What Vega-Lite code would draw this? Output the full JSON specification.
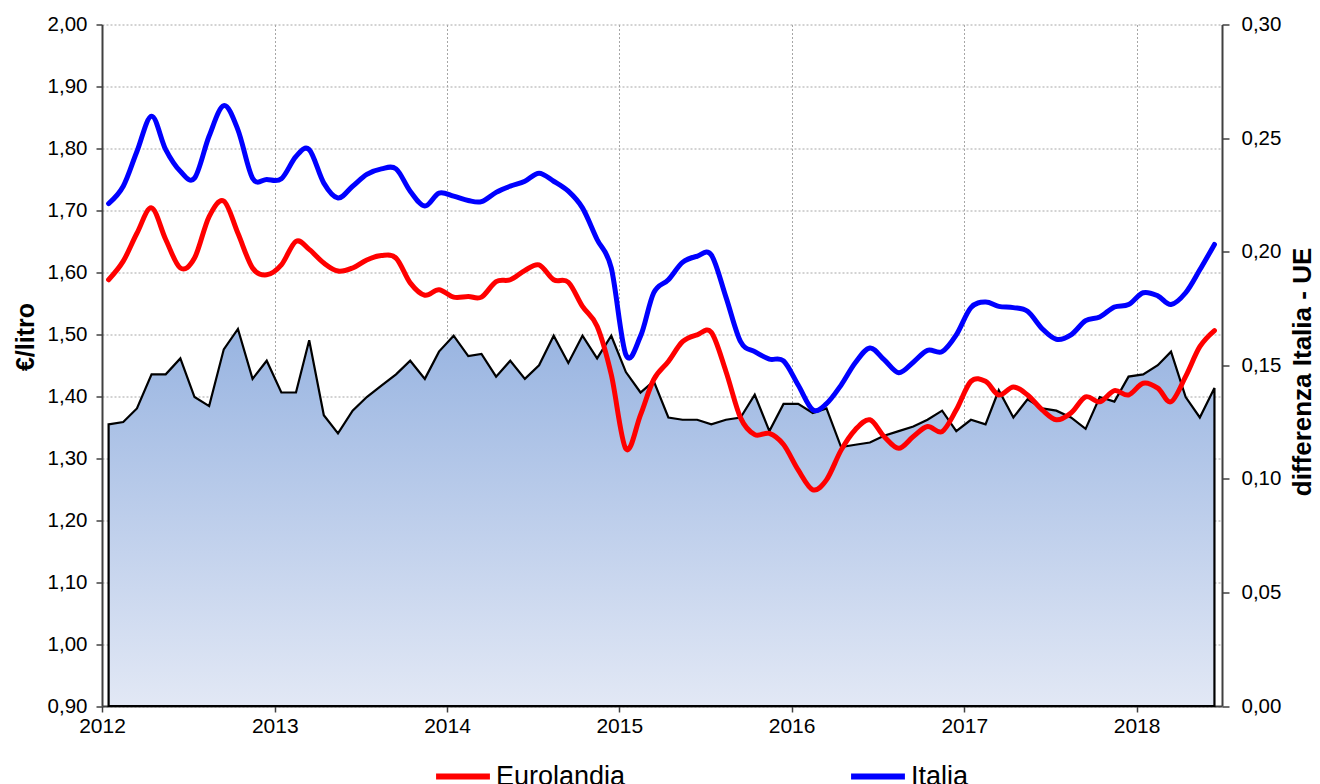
{
  "$schema": "https://vega.github.io/schema/vega-lite/v6.json",
  "width": 1120,
  "height": 681.5,
  "autosize": {"type": "none"},
  "padding": {"left": 102, "top": 24.5, "right": 98, "bottom": 78},
  "background": "white",
  "config": {
    "font": "Liberation Sans",
    "view": {"stroke": null},
    "axis": {"labelFont": "Liberation Sans", "titleFont": "Liberation Sans", "labelColor": "black", "titleColor": "black"}
  },
  "data": {
    "values": [
      {"d": "2012-01-15", "Eurolandia": 1.588, "Italia": 1.711, "diff": 0.124},
      {"d": "2012-02-15", "Eurolandia": 1.618, "Italia": 1.739, "diff": 0.125},
      {"d": "2012-03-15", "Eurolandia": 1.663, "Italia": 1.795, "diff": 0.131},
      {"d": "2012-04-15", "Eurolandia": 1.704, "Italia": 1.852, "diff": 0.146},
      {"d": "2012-05-15", "Eurolandia": 1.653, "Italia": 1.798, "diff": 0.146},
      {"d": "2012-06-15", "Eurolandia": 1.607, "Italia": 1.763, "diff": 0.153},
      {"d": "2012-07-15", "Eurolandia": 1.623, "Italia": 1.752, "diff": 0.136},
      {"d": "2012-08-15", "Eurolandia": 1.690, "Italia": 1.820, "diff": 0.132},
      {"d": "2012-09-15", "Eurolandia": 1.715, "Italia": 1.869, "diff": 0.157},
      {"d": "2012-10-15", "Eurolandia": 1.663, "Italia": 1.830, "diff": 0.166},
      {"d": "2012-11-15", "Eurolandia": 1.607, "Italia": 1.752, "diff": 0.144},
      {"d": "2012-12-15", "Eurolandia": 1.596, "Italia": 1.750, "diff": 0.152},
      {"d": "2013-01-15", "Eurolandia": 1.612, "Italia": 1.751, "diff": 0.138},
      {"d": "2013-02-15", "Eurolandia": 1.650, "Italia": 1.787, "diff": 0.138},
      {"d": "2013-03-15", "Eurolandia": 1.637, "Italia": 1.798, "diff": 0.161},
      {"d": "2013-04-15", "Eurolandia": 1.615, "Italia": 1.744, "diff": 0.128},
      {"d": "2013-05-15", "Eurolandia": 1.602, "Italia": 1.720, "diff": 0.120},
      {"d": "2013-06-15", "Eurolandia": 1.607, "Italia": 1.739, "diff": 0.130},
      {"d": "2013-07-15", "Eurolandia": 1.620, "Italia": 1.758, "diff": 0.136},
      {"d": "2013-08-15", "Eurolandia": 1.627, "Italia": 1.767, "diff": 0.141},
      {"d": "2013-09-15", "Eurolandia": 1.623, "Italia": 1.767, "diff": 0.146},
      {"d": "2013-10-15", "Eurolandia": 1.583, "Italia": 1.731, "diff": 0.152},
      {"d": "2013-11-15", "Eurolandia": 1.563, "Italia": 1.707, "diff": 0.144},
      {"d": "2013-12-15", "Eurolandia": 1.572, "Italia": 1.728, "diff": 0.156},
      {"d": "2014-01-15", "Eurolandia": 1.560, "Italia": 1.723, "diff": 0.163},
      {"d": "2014-02-15", "Eurolandia": 1.561, "Italia": 1.716, "diff": 0.154},
      {"d": "2014-03-15", "Eurolandia": 1.560, "Italia": 1.714, "diff": 0.155},
      {"d": "2014-04-15", "Eurolandia": 1.585, "Italia": 1.729, "diff": 0.145},
      {"d": "2014-05-15", "Eurolandia": 1.588, "Italia": 1.739, "diff": 0.152},
      {"d": "2014-06-15", "Eurolandia": 1.603, "Italia": 1.747, "diff": 0.144},
      {"d": "2014-07-15", "Eurolandia": 1.612, "Italia": 1.760, "diff": 0.150},
      {"d": "2014-08-15", "Eurolandia": 1.588, "Italia": 1.747, "diff": 0.163},
      {"d": "2014-09-15", "Eurolandia": 1.584, "Italia": 1.731, "diff": 0.151},
      {"d": "2014-10-15", "Eurolandia": 1.545, "Italia": 1.704, "diff": 0.163},
      {"d": "2014-11-15", "Eurolandia": 1.513, "Italia": 1.653, "diff": 0.153},
      {"d": "2014-12-15", "Eurolandia": 1.435, "Italia": 1.607, "diff": 0.163},
      {"d": "2015-01-15", "Eurolandia": 1.315, "Italia": 1.467, "diff": 0.147},
      {"d": "2015-02-15", "Eurolandia": 1.370, "Italia": 1.497, "diff": 0.138},
      {"d": "2015-03-15", "Eurolandia": 1.427, "Italia": 1.567, "diff": 0.143},
      {"d": "2015-04-15", "Eurolandia": 1.456, "Italia": 1.588, "diff": 0.127},
      {"d": "2015-05-15", "Eurolandia": 1.488, "Italia": 1.616, "diff": 0.126},
      {"d": "2015-06-15", "Eurolandia": 1.499, "Italia": 1.626, "diff": 0.126},
      {"d": "2015-07-15", "Eurolandia": 1.503, "Italia": 1.628, "diff": 0.124},
      {"d": "2015-08-15", "Eurolandia": 1.440, "Italia": 1.560, "diff": 0.126},
      {"d": "2015-09-15", "Eurolandia": 1.365, "Italia": 1.488, "diff": 0.127},
      {"d": "2015-10-15", "Eurolandia": 1.338, "Italia": 1.472, "diff": 0.137},
      {"d": "2015-11-15", "Eurolandia": 1.340, "Italia": 1.460, "diff": 0.121},
      {"d": "2015-12-15", "Eurolandia": 1.322, "Italia": 1.457, "diff": 0.133},
      {"d": "2016-01-15", "Eurolandia": 1.281, "Italia": 1.418, "diff": 0.133},
      {"d": "2016-02-15", "Eurolandia": 1.249, "Italia": 1.378, "diff": 0.129},
      {"d": "2016-03-15", "Eurolandia": 1.265, "Italia": 1.388, "diff": 0.131},
      {"d": "2016-04-15", "Eurolandia": 1.313, "Italia": 1.418, "diff": 0.114},
      {"d": "2016-05-15", "Eurolandia": 1.346, "Italia": 1.454, "diff": 0.115},
      {"d": "2016-06-15", "Eurolandia": 1.362, "Italia": 1.478, "diff": 0.116},
      {"d": "2016-07-15", "Eurolandia": 1.335, "Italia": 1.459, "diff": 0.119},
      {"d": "2016-08-15", "Eurolandia": 1.316, "Italia": 1.438, "diff": 0.121},
      {"d": "2016-09-15", "Eurolandia": 1.335, "Italia": 1.455, "diff": 0.123},
      {"d": "2016-10-15", "Eurolandia": 1.351, "Italia": 1.474, "diff": 0.126},
      {"d": "2016-11-15", "Eurolandia": 1.343, "Italia": 1.472, "diff": 0.130},
      {"d": "2016-12-15", "Eurolandia": 1.378, "Italia": 1.499, "diff": 0.121},
      {"d": "2017-01-15", "Eurolandia": 1.424, "Italia": 1.543, "diff": 0.126},
      {"d": "2017-02-15", "Eurolandia": 1.424, "Italia": 1.552, "diff": 0.124},
      {"d": "2017-03-15", "Eurolandia": 1.402, "Italia": 1.545, "diff": 0.139},
      {"d": "2017-04-15", "Eurolandia": 1.415, "Italia": 1.543, "diff": 0.127},
      {"d": "2017-05-15", "Eurolandia": 1.402, "Italia": 1.537, "diff": 0.135},
      {"d": "2017-06-15", "Eurolandia": 1.378, "Italia": 1.509, "diff": 0.131},
      {"d": "2017-07-15", "Eurolandia": 1.362, "Italia": 1.492, "diff": 0.130},
      {"d": "2017-08-15", "Eurolandia": 1.373, "Italia": 1.499, "diff": 0.127},
      {"d": "2017-09-15", "Eurolandia": 1.399, "Italia": 1.522, "diff": 0.122},
      {"d": "2017-10-15", "Eurolandia": 1.391, "Italia": 1.528, "diff": 0.136},
      {"d": "2017-11-15", "Eurolandia": 1.409, "Italia": 1.544, "diff": 0.134},
      {"d": "2017-12-15", "Eurolandia": 1.402, "Italia": 1.548, "diff": 0.145},
      {"d": "2018-01-15", "Eurolandia": 1.421, "Italia": 1.567, "diff": 0.146},
      {"d": "2018-02-15", "Eurolandia": 1.413, "Italia": 1.562, "diff": 0.150},
      {"d": "2018-03-15", "Eurolandia": 1.391, "Italia": 1.548, "diff": 0.156},
      {"d": "2018-04-15", "Eurolandia": 1.432, "Italia": 1.567, "diff": 0.136},
      {"d": "2018-05-15", "Eurolandia": 1.480, "Italia": 1.604, "diff": 0.127},
      {"d": "2018-06-15", "Eurolandia": 1.506, "Italia": 1.645, "diff": 0.140}
    ]
  },
  "layer": [
    {
      "mark": {
        "type": "area",
        "interpolate": "linear",
        "stroke": "black",
        "strokeWidth": 2.2,
        "strokeJoin": "miter",
        "fill": {
          "gradient": "linear",
          "x1": 0, "y1": 0, "x2": 0, "y2": 1,
          "stops": [
            {"offset": 0, "color": "#98b4e1"},
            {"offset": 1, "color": "#e2e8f5"}
          ]
        }
      },
      "encoding": {
        "x": {
          "field": "d",
          "type": "temporal",
          "scale": {"type": "utc", "domain": [{"year": 2012, "month": 1, "date": 1, "utc": true}, {"year": 2018, "month": 7, "date": 1, "utc": true}]},
          "axis": {
            "title": null,
            "format": "%Y",
            "tickCount": "year",
            "grid": true,
            "gridColor": "#a6a6a6",
            "gridDash": [2, 2],
            "gridWidth": 1,
            "domainColor": "#404040",
            "domainWidth": 2,
            "tickColor": "#404040",
            "tickWidth": 1.5,
            "tickSize": 6,
            "labelFontSize": 21,
            "labelPadding": 3,
            "labelDx": 6,
            "labelFlush": false,
            "labelOverlap": false
          }
        },
        "y": {
          "field": "diff",
          "type": "quantitative",
          "scale": {"domain": [0, 0.3], "nice": false, "zero": true},
          "axis": {
            "orient": "right",
            "values": [0, 0.05, 0.1, 0.15, 0.2, 0.25, 0.3],
            "labelExpr": "replace(format(datum.value, '.2f'), '.', ',')",
            "grid": false,
            "domainColor": "#404040",
            "domainWidth": 2,
            "tickColor": "#404040",
            "tickWidth": 1.5,
            "tickSize": 7,
            "labelFontSize": 20.5,
            "labelPadding": 12,
            "labelFlush": false,
            "title": "differenza Italia - UE",
            "titleFontSize": 26,
            "titleFontWeight": "bold",
            "titleAngle": -90,
            "titleBaseline": "middle",
            "titleX": 80,
            "titleY": 347
          }
        }
      }
    },
    {
      "transform": [{"fold": ["Eurolandia", "Italia"], "as": ["serie", "val"]}],
      "mark": {"type": "line", "interpolate": "cardinal", "strokeWidth": 5, "strokeCap": "round", "strokeJoin": "round"},
      "encoding": {
        "x": {"field": "d", "type": "temporal"},
        "y": {
          "field": "val",
          "type": "quantitative",
          "scale": {"domain": [0.9, 2.0], "nice": false, "zero": false},
          "axis": {
            "orient": "left",
            "values": [0.9, 1.0, 1.1, 1.2, 1.3, 1.4, 1.5, 1.6, 1.7, 1.8, 1.9, 2.0],
            "labelExpr": "replace(format(datum.value, '.2f'), '.', ',')",
            "grid": true,
            "gridColor": "#a6a6a6",
            "gridDash": [2, 2],
            "gridWidth": 1,
            "domainColor": "#404040",
            "domainWidth": 2,
            "tickColor": "#404040",
            "tickWidth": 1.5,
            "tickSize": 6,
            "labelFontSize": 20.5,
            "labelPadding": 9,
            "labelFlush": false,
            "title": "€/litro",
            "titleFontSize": 25,
            "titleFontWeight": "bold",
            "titleAngle": -90,
            "titleBaseline": "middle",
            "titleX": -77,
            "titleY": 312
          }
        },
        "color": {
          "field": "serie",
          "type": "nominal",
          "scale": {"domain": ["Eurolandia", "Italia"], "range": ["#ff0000", "#0000ff"]},
          "legend": {
            "orient": "none",
            "legendX": 331,
            "legendY": 722,
            "direction": "horizontal",
            "columns": 2,
            "columnPadding": 213,
            "title": null,
            "symbolType": "stroke",
            "symbolSize": 2900,
            "symbolStrokeWidth": 6,
            "labelFontSize": 27,
            "labelFont": "Liberation Sans",
            "labelColor": "black",
            "labelOffset": 3,
            "labelLimit": 0
          }
        }
      }
    }
  ],
  "resolve": {"scale": {"y": "independent"}, "axis": {"y": "independent"}}
}
